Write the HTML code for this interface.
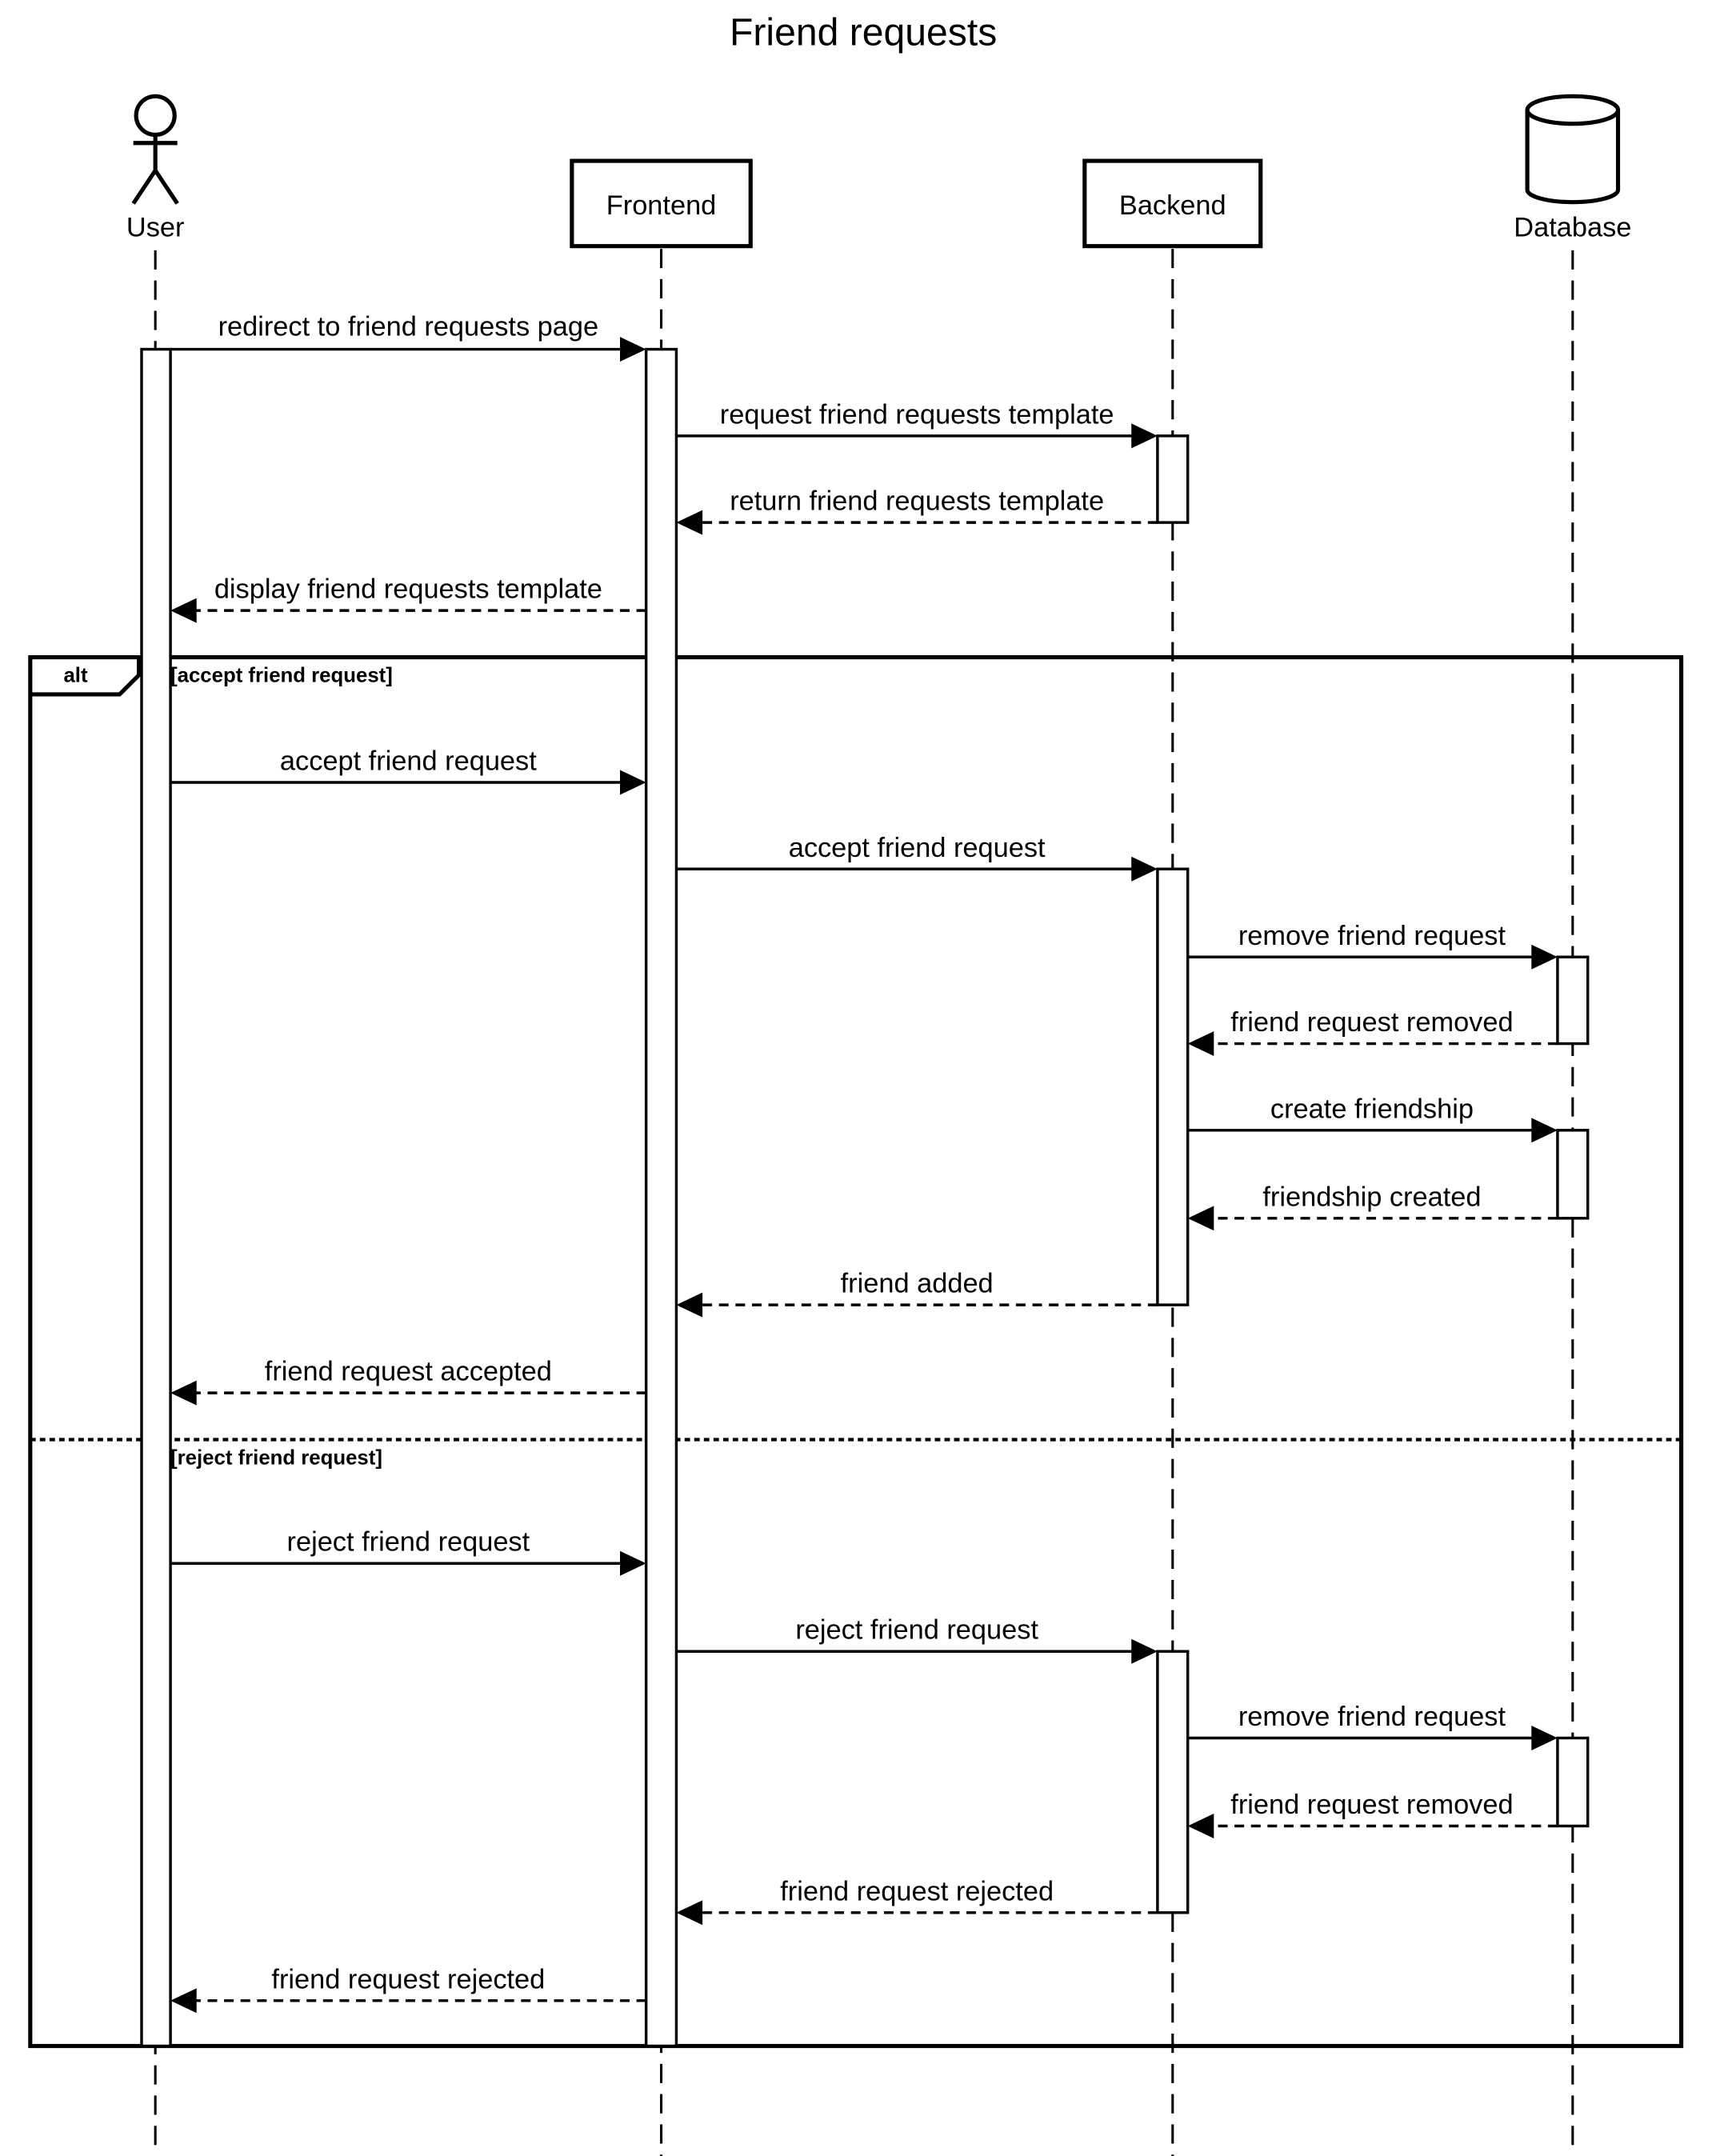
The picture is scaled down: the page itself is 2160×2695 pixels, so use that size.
<!DOCTYPE html>
<html><head><meta charset="utf-8">
<style>
html,body{margin:0;padding:0;background:#fff;}
svg{display:block;}
text{font-family:"Liberation Sans",Arial,sans-serif;fill:#000;}
</style></head>
<body>
<svg width="2160" height="2695" viewBox="0 0 1257 1568" preserveAspectRatio="none" xmlns="http://www.w3.org/2000/svg">
<rect width="1257" height="1568" fill="#fff"/>
<text x="628" y="33" font-size="28" text-anchor="middle">Friend requests</text>

<g stroke="#000" stroke-width="1.8" stroke-dasharray="14,8" fill="none">
<line x1="113" y1="182" x2="113" y2="1568"/>
<line x1="481" y1="181" x2="481" y2="1568"/>
<line x1="853" y1="181" x2="853" y2="1568"/>
<line x1="1144" y1="182" x2="1144" y2="1568"/>
</g>

<g stroke="#000" stroke-width="3" fill="none">
<circle cx="113" cy="84" r="14" fill="#fff"/>
<line x1="113" y1="98" x2="113" y2="124"/>
<line x1="97" y1="104" x2="129" y2="104"/>
<line x1="113" y1="124" x2="97" y2="148"/>
<line x1="113" y1="124" x2="129" y2="148"/>
</g>
<text x="113" y="172" font-size="20" text-anchor="middle">User</text>

<g stroke="#000" stroke-width="3" fill="#fff">
<rect x="416" y="117" width="130" height="62"/>
<rect x="789" y="117" width="128" height="62"/>
</g>
<text x="481" y="156" font-size="20" text-anchor="middle">Frontend</text>
<text x="853" y="156" font-size="20" text-anchor="middle">Backend</text>

<g stroke="#000" stroke-width="3" fill="#fff">
<path d="M1111,80 L1111,138 A33,9 0 0 0 1177,138 L1177,80"/>
<ellipse cx="1144" cy="80" rx="33" ry="10"/>
</g>
<text x="1144" y="172" font-size="20" text-anchor="middle">Database</text>

<g stroke="#000" fill="none">
<rect x="22" y="478" width="1201" height="1010" stroke-width="3"/>
<polyline points="22,505 87,505 101,491 101,478" stroke-width="3"/>
<line x1="22" y1="1047" x2="1223" y2="1047" stroke-width="2.5" stroke-dasharray="4,3"/>
</g>
<text x="55" y="496" font-size="15" font-weight="bold" text-anchor="middle">alt</text>
<text x="124" y="496" font-size="15" font-weight="bold">[accept friend request]</text>
<text x="124" y="1065" font-size="15" font-weight="bold">[reject friend request]</text>

<g stroke="#000" stroke-width="2" fill="#fff">
<rect x="103" y="254" width="21" height="1234"/>
<rect x="470" y="254" width="22" height="1234"/>
<rect x="842" y="317" width="22" height="63"/>
<rect x="842" y="632" width="22" height="317"/>
<rect x="842" y="1201" width="22" height="190"/>
<rect x="1133" y="696" width="22" height="63"/>
<rect x="1133" y="822" width="22" height="64"/>
<rect x="1133" y="1264" width="22" height="64"/>
</g>

<g stroke="#000" stroke-width="2" fill="none">
<line x1="124" y1="254" x2="452" y2="254"/>
<line x1="492" y1="317" x2="824" y2="317"/>
<line x1="842" y1="380" x2="510" y2="380" stroke-dasharray="7,5"/>
<line x1="470" y1="444" x2="142" y2="444" stroke-dasharray="7,5"/>
<line x1="124" y1="569" x2="452" y2="569"/>
<line x1="492" y1="632" x2="824" y2="632"/>
<line x1="864" y1="696" x2="1115" y2="696"/>
<line x1="1133" y1="759" x2="882" y2="759" stroke-dasharray="7,5"/>
<line x1="864" y1="822" x2="1115" y2="822"/>
<line x1="1133" y1="886" x2="882" y2="886" stroke-dasharray="7,5"/>
<line x1="842" y1="949" x2="510" y2="949" stroke-dasharray="7,5"/>
<line x1="470" y1="1013" x2="142" y2="1013" stroke-dasharray="7,5"/>
<line x1="124" y1="1137" x2="452" y2="1137"/>
<line x1="492" y1="1201" x2="824" y2="1201"/>
<line x1="864" y1="1264" x2="1115" y2="1264"/>
<line x1="1133" y1="1328" x2="882" y2="1328" stroke-dasharray="7,5"/>
<line x1="842" y1="1391" x2="510" y2="1391" stroke-dasharray="7,5"/>
<line x1="470" y1="1455" x2="142" y2="1455" stroke-dasharray="7,5"/>
</g>
<g fill="#000">
<polygon points="470,254 451,245 451,263"/>
<polygon points="842,317 823,308 823,326"/>
<polygon points="492,380 511,371 511,389"/>
<polygon points="124,444 143,435 143,453"/>
<polygon points="470,569 451,560 451,578"/>
<polygon points="842,632 823,623 823,641"/>
<polygon points="1133,696 1114,687 1114,705"/>
<polygon points="864,759 883,750 883,768"/>
<polygon points="1133,822 1114,813 1114,831"/>
<polygon points="864,886 883,877 883,895"/>
<polygon points="492,949 511,940 511,958"/>
<polygon points="124,1013 143,1004 143,1022"/>
<polygon points="470,1137 451,1128 451,1146"/>
<polygon points="842,1201 823,1192 823,1210"/>
<polygon points="1133,1264 1114,1255 1114,1273"/>
<polygon points="864,1328 883,1319 883,1337"/>
<polygon points="492,1391 511,1382 511,1400"/>
<polygon points="124,1455 143,1446 143,1464"/>
</g>
<g font-size="20" text-anchor="middle">
<text x="297" y="244">redirect to friend requests page</text>
<text x="667" y="308">request friend requests template</text>
<text x="667" y="371">return friend requests template</text>
<text x="297" y="435">display friend requests template</text>
<text x="297" y="560">accept friend request</text>
<text x="667" y="623">accept friend request</text>
<text x="998" y="687">remove friend request</text>
<text x="998" y="750">friend request removed</text>
<text x="998" y="813">create friendship</text>
<text x="998" y="877">friendship created</text>
<text x="667" y="940">friend added</text>
<text x="297" y="1004">friend request accepted</text>
<text x="297" y="1128">reject friend request</text>
<text x="667" y="1192">reject friend request</text>
<text x="998" y="1255">remove friend request</text>
<text x="998" y="1319">friend request removed</text>
<text x="667" y="1382">friend request rejected</text>
<text x="297" y="1446">friend request rejected</text>
</g>
</svg>
</body></html>
